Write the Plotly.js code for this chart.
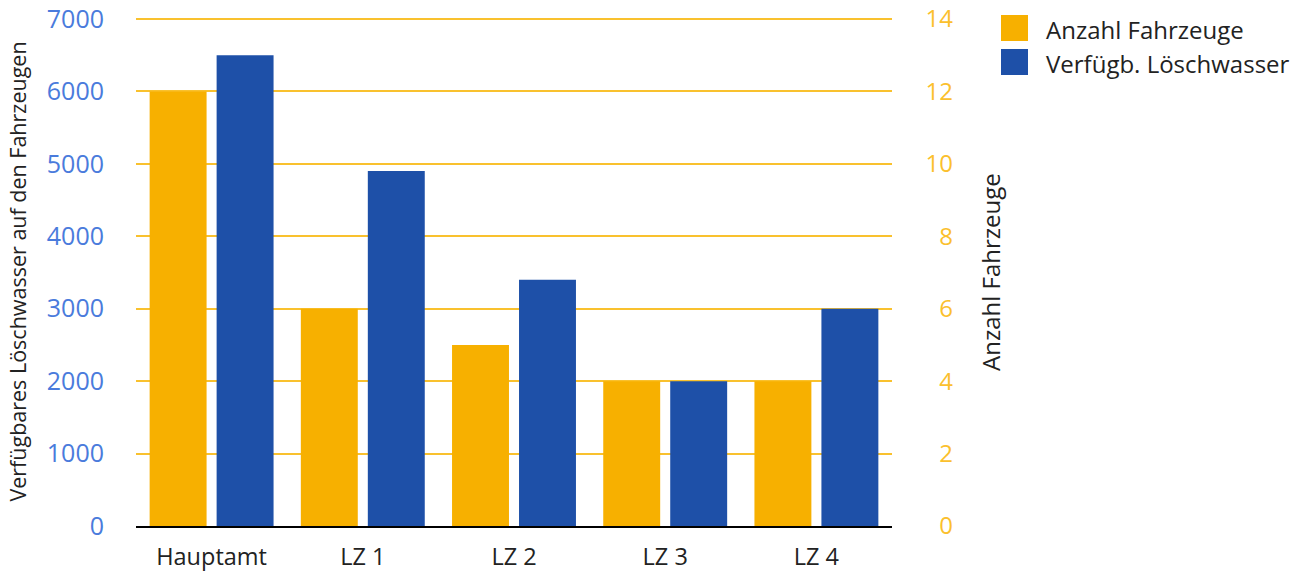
<!DOCTYPE html>
<html>
<head>
<meta charset="utf-8">
<script src="https://cdn.plot.ly/plotly-3.0.1.min.js"></script>
<style>
  html, body { margin: 0; padding: 0; background: #fff; }
  #chart { width: 1303px; height: 572px; }
</style>
</head>
<body>
<div id="chart"></div>
<script>
// Fire stations and their vehicle / extinguishing water capacity
const stations = ['Hauptamt', 'LZ 1', 'LZ 2', 'LZ 3', 'LZ 4'];
const vehicleCount = [12, 6, 5, 4, 4];
const waterLitres = [6500, 4900, 3400, 2000, 3000];

const seriesNames = ['Anzahl Fahrzeuge', 'Verfügb. Löschwasser'];
const seriesColors = ['#F7B000', '#1E50A8'];

const leftTitle = 'Verfügbares Löschwasser auf den Fahrzeugen';
const rightTitle = 'Anzahl Fahrzeuge';

const FONT = '"Open Sans", "Noto Sans", sans-serif';
const W = 1303, H = 572;
const ML = 136, MR = 0, MT = 17, MB = 46;
const paperW = W - ML - MR;
const plotH = H - MT - MB;
const plotRight = 892;
const xDomainEnd = (plotRight - ML) / paperW;

// small headroom above the top tick so its gridline is still drawn
const headroom = 1.004;

const traces = [
  {
    type: 'bar', name: seriesNames[0], x: stations, y: vehicleCount,
    yaxis: 'y2', offsetgroup: 'a', marker: { color: seriesColors[0] },
    showlegend: false, hoverinfo: 'x+y'
  },
  {
    type: 'bar', name: seriesNames[1], x: stations, y: waterLitres,
    yaxis: 'y', offsetgroup: 'b', marker: { color: seriesColors[1] },
    showlegend: false, hoverinfo: 'x+y'
  }
];

// pixel row -> paper fraction
const py = (row) => 1 - (row - MT) / plotH;

// Legend keys drawn as square swatches next to the series names
const legendX = (1001 - ML) / paperW;
const legendRows = [28, 62];
const shapes = [], annotations = [];
seriesNames.forEach((name, i) => {
  const cy = legendRows[i];
  shapes.push({
    type: 'rect', xref: 'paper', yref: 'paper', layer: 'above',
    x0: legendX, x1: legendX + 27 / paperW,
    y0: py(cy + 13), y1: py(cy - 13),
    fillcolor: seriesColors[i], line: { width: 0 }
  });
  annotations.push({
    xref: 'paper', yref: 'paper', x: (1044 - ML) / paperW,
    y: py(cy + 1), xanchor: 'left', yanchor: 'middle',
    text: name, showarrow: false, font: { family: FONT, size: 24, color: '#222' }
  });
});

const layout = {
  width: W, height: H,
  margin: { l: ML, r: MR, t: MT, b: MB, pad: 0 },
  paper_bgcolor: '#fff', plot_bgcolor: '#fff',
  barmode: 'group', bargap: 0.114, bargroupgap: 0.15,
  showlegend: false,
  font: { family: FONT, color: '#222' },
  xaxis: {
    domain: [0, xDomainEnd], type: 'category',
    showgrid: false, showline: true, linecolor: '#000', linewidth: 2,
    ticks: 'outside', ticklen: 9, tickcolor: 'rgba(0,0,0,0)',
    tickfont: { family: FONT, size: 23.5, color: '#222' }
  },
  yaxis: {
    range: [0, 7000 * headroom], tickvals: [0, 1000, 2000, 3000, 4000, 5000, 6000, 7000],
    showgrid: true, gridcolor: '#F9C12E', gridwidth: 2,
    zeroline: false, showline: false,
    ticks: 'outside', ticklen: 26, tickcolor: 'rgba(0,0,0,0)',
    tickfont: { family: FONT, size: 25, color: '#4A7BDC' },
    title: { text: leftTitle, font: { family: FONT, size: 21.5, color: '#222' }, standoff: 14 }
  },
  yaxis2: {
    range: [0, 14 * headroom], tickvals: [0, 2, 4, 6, 8, 10, 12, 14],
    overlaying: 'y', side: 'left', anchor: 'free',
    position: (953 - ML) / paperW,
    showgrid: false, zeroline: false, showline: false,
    ticks: '', tickfont: { family: FONT, size: 24, color: '#FBC02D' }
  },
  shapes: shapes,
  annotations: annotations.concat([{
    xref: 'paper', yref: 'paper', x: (990 - ML) / paperW, y: py(272),
    xanchor: 'center', yanchor: 'middle', textangle: -90,
    text: rightTitle, showarrow: false,
    font: { family: FONT, size: 24, color: '#222' }
  }])
};

Plotly.newPlot('chart', traces, layout, { displayModeBar: false, staticPlot: true });
</script>
</body>
</html>
